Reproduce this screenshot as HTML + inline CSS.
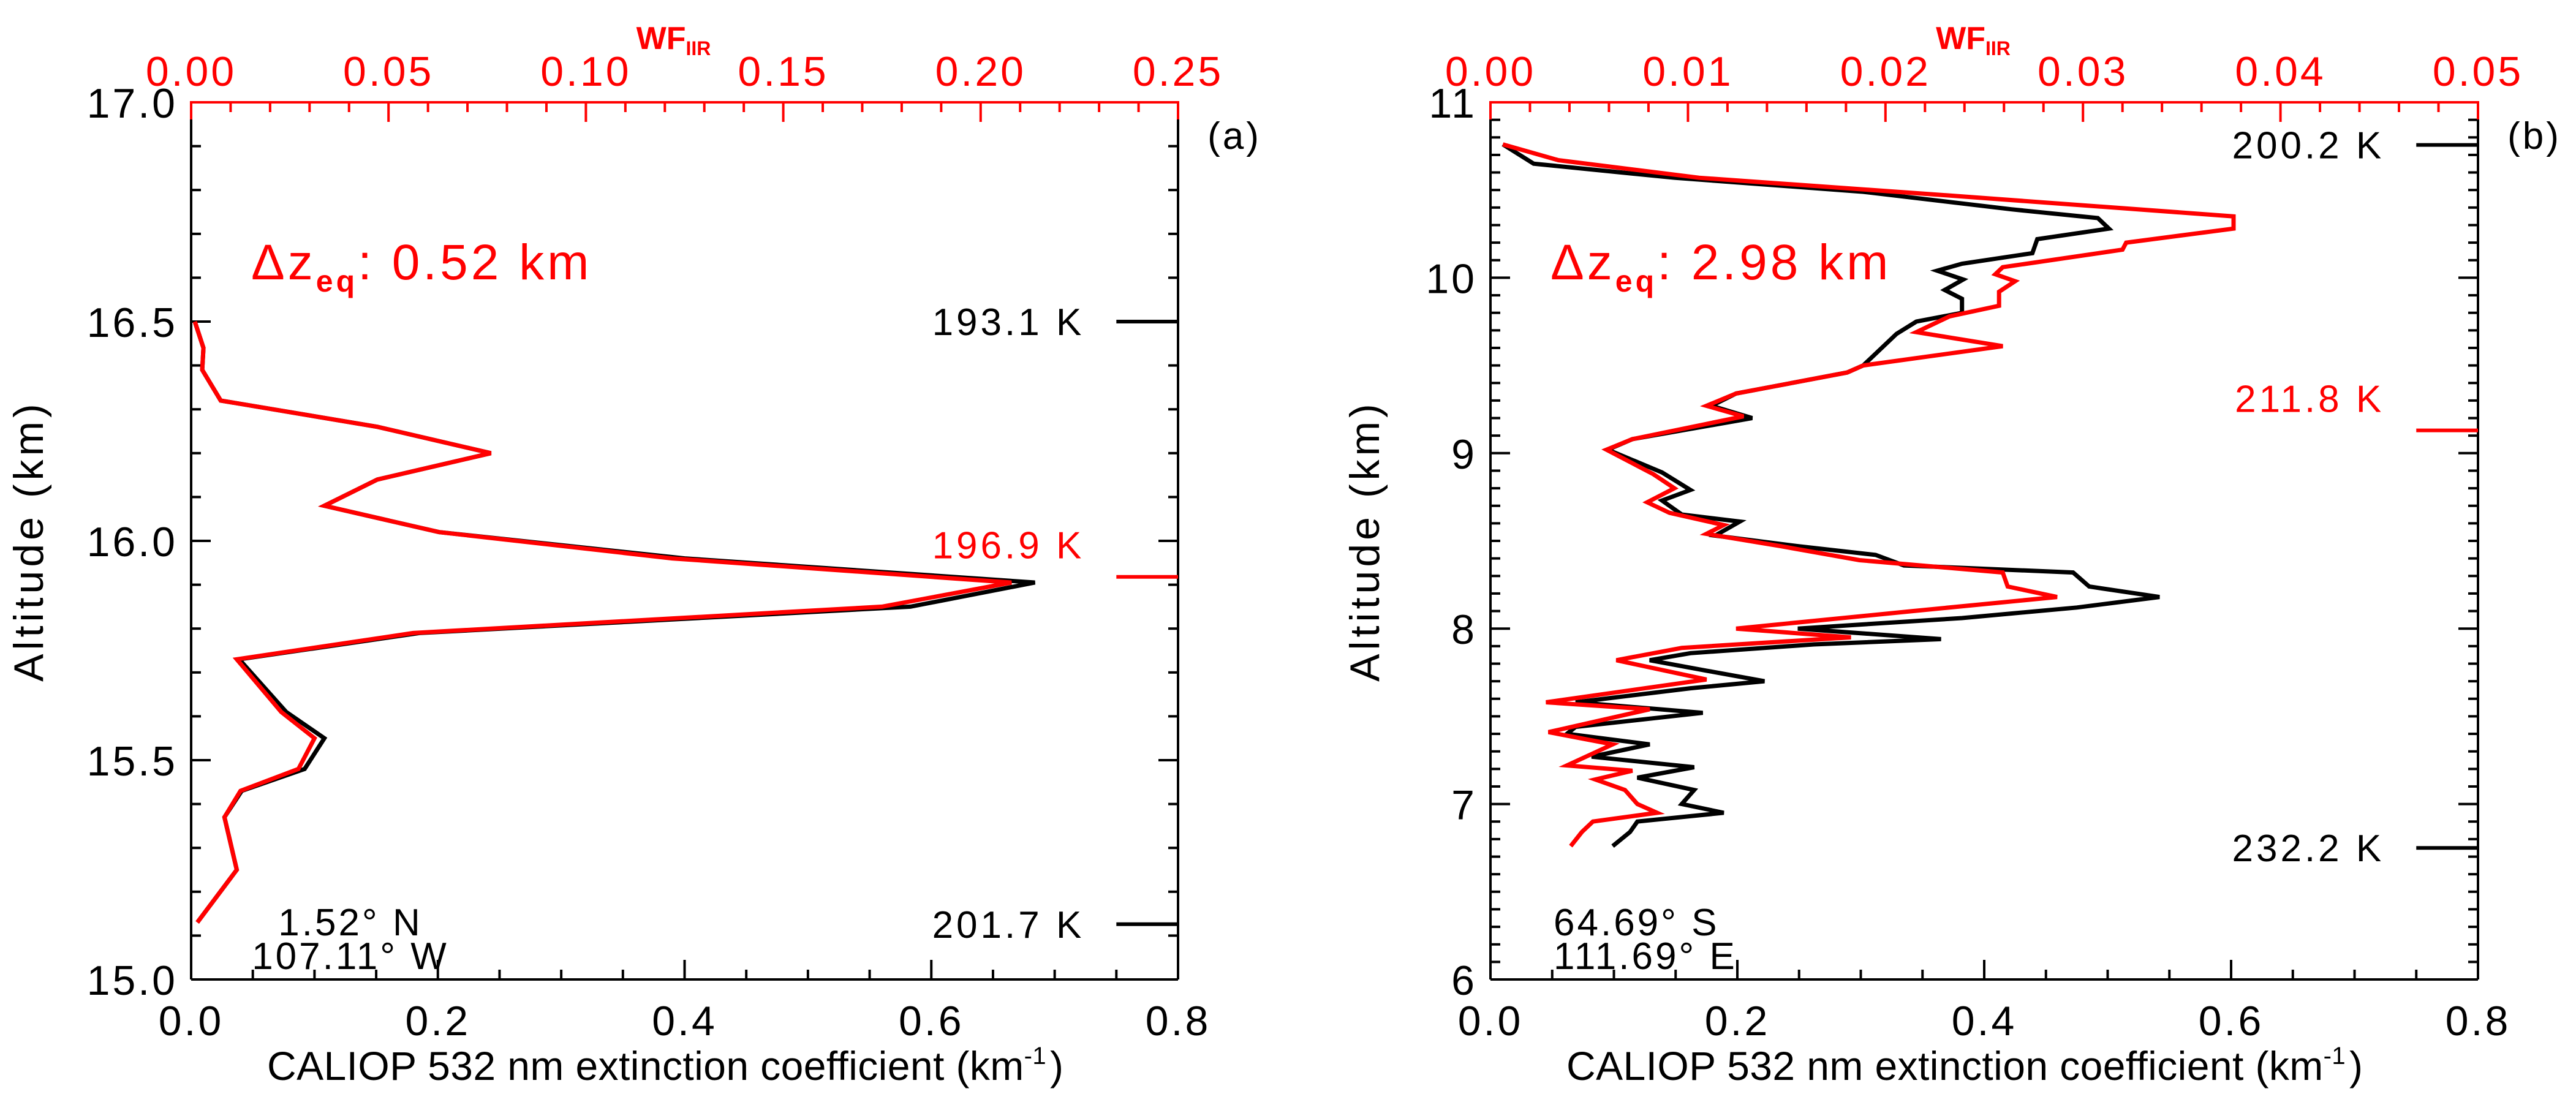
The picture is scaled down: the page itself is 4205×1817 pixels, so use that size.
<!DOCTYPE html>
<html><head><meta charset="utf-8"><style>
html,body{margin:0;padding:0;background:#fff;}
svg{display:block;font-family:"Liberation Sans",sans-serif;}
</style></head><body>
<svg id="fig" width="4205" height="1817" viewBox="0 0 4205 1817" xmlns="http://www.w3.org/2000/svg"></svg>
<script>
// ---------- data panel (a) ----------
const aAlt  = [16.5,16.44,16.39,16.32,16.26,16.20,16.14,16.08,16.02,15.96,15.905,15.85,15.79,15.73,15.61,15.55,15.48,15.43,15.37,15.25,15.13];
const aBlack= [0.003,0.010,0.009,0.024,0.151,0.243,0.151,0.108,0.201,0.40,0.684,0.583,0.185,0.039,0.077,0.108,0.092,0.041,0.027,0.037,0.005];
const aRed  = [0.003,0.010,0.009,0.024,0.151,0.243,0.151,0.108,0.201,0.39,0.665,0.560,0.180,0.037,0.073,0.100,0.087,0.040,0.027,0.037,0.005];
// ---------- data panel (b) ----------
const bAltK = [10.76,10.65,10.57,10.49,10.39,10.34,10.28,10.22,10.14,10.08,10.04,9.99,9.93,9.88,9.80,9.75,9.68,9.50,9.46,9.34,9.27,9.20,9.08,9.02,8.89,8.79,8.73,8.65,8.61,8.53,8.47,8.42,8.36,8.32,8.24,8.18,8.12,8.06,8.00,7.94,7.91,7.86,7.82,7.76,7.70,7.66,7.58,7.52,7.44,7.40,7.34,7.27,7.21,7.15,7.08,7.00,6.95,6.90,6.84,6.76];
const bBlack= [0.010,0.035,0.149,0.302,0.422,0.492,0.501,0.443,0.439,0.382,0.362,0.383,0.368,0.382,0.382,0.345,0.329,0.302,0.289,0.199,0.179,0.212,0.115,0.095,0.139,0.162,0.139,0.155,0.202,0.182,0.249,0.312,0.335,0.472,0.485,0.542,0.475,0.382,0.249,0.365,0.262,0.162,0.129,0.175,0.222,0.162,0.069,0.172,0.069,0.062,0.129,0.082,0.165,0.119,0.165,0.155,0.189,0.119,0.113,0.099];
const bAltR = [10.76,10.67,10.57,10.47,10.35,10.28,10.20,10.16,10.06,10.02,9.98,9.92,9.84,9.78,9.69,9.61,9.50,9.46,9.34,9.27,9.21,9.08,9.02,8.88,8.80,8.72,8.66,8.59,8.54,8.47,8.39,8.32,8.24,8.18,8.10,8.00,7.95,7.89,7.82,7.71,7.58,7.54,7.41,7.34,7.22,7.19,7.14,7.08,7.00,6.95,6.90,6.84,6.76];
const bRed  = [0.010,0.055,0.169,0.369,0.602,0.602,0.515,0.512,0.415,0.409,0.425,0.412,0.412,0.372,0.345,0.415,0.302,0.289,0.199,0.175,0.205,0.115,0.094,0.132,0.149,0.127,0.145,0.189,0.175,0.235,0.299,0.415,0.419,0.459,0.342,0.199,0.292,0.155,0.102,0.175,0.045,0.129,0.047,0.099,0.062,0.115,0.085,0.109,0.119,0.135,0.083,0.074,0.065];
// ticks
const xTickLabels = ["0.0","0.2","0.4","0.6","0.8"];
const aTopLabels = ["0.00","0.05","0.10","0.15","0.20","0.25"];
const bTopLabels = ["0.00","0.01","0.02","0.03","0.04","0.05"];
const aYLabels = ["15.0","15.5","16.0","16.5","17.0"];
const bYLabels = ["6","7","8","9","10","11"];
const aTemps = [[16.5,"193.1 K","#000"],[15.918,"196.9 K","#f00"],[15.126,"201.7 K","#000"]];
const bTemps = [[10.757,"200.2 K","#000"],[9.13,"211.8 K","#f00"],[6.75,"232.2 K","#000"]];

const NS="http://www.w3.org/2000/svg";
const svg=document.getElementById('fig');
function el(tag,attrs,parent){const e=document.createElementNS(NS,tag);for(const k in attrs)e.setAttribute(k,attrs[k]);(parent||svg).appendChild(e);return e;}
function txt(s,x,y,size,fill,anchor,parent,extra){const t=el('text',Object.assign({x:x,y:y,'font-size':size,fill:fill,'text-anchor':anchor||'start'},extra||{}),parent);t.textContent=s;return t;}

function panel(o){
  const g=el('g',{});
  
  
  const L=o.L,R=o.R,T=167,B=1599;
  const sx=v=>L+(v/0.8)*(R-L);
  const sy=v=>B-(v-o.ymin)/(o.ymax-o.ymin)*(B-T);
  const st=v=>L+(v/o.topMax)*(R-L);
  const nY=Math.round((o.ymax-o.ymin)/o.yMinor);
  for(let i=0;i<=nY;i++){
    const v=o.ymin+i*o.yMinor, y=sy(v);
    const major=Math.abs((v-o.ymin)/o.yMajor-Math.round((v-o.ymin)/o.yMajor))<1e-6;
    const len=major?32:16;
    el('line',{x1:L,y1:y,x2:L+len,y2:y,stroke:'#000','stroke-width':4},g);
    el('line',{x1:R,y1:y,x2:R-len,y2:y,stroke:'#000','stroke-width':4},g);
  }
  o.yLabels.forEach((s,i)=>{const t=txt(s,L-22,sy(o.ymin+i*o.yMajor)+25,68,'#000','end',g,{'letter-spacing':'4'});
    });
  for(let i=0;i<=16;i++){const v=i*0.05,x=sx(v);const len=(i%4==0)?32:16;
    el('line',{x1:x,y1:B,x2:x,y2:B-len,stroke:'#000','stroke-width':4},g);}
  xTickLabels.forEach((s,i)=>{const t=txt(s,sx(i*0.2),1690,68,'#000','middle',g,{'letter-spacing':'4'});
    });
  const nT=Math.round(o.topMax/o.topMinor);
  for(let i=0;i<=nT;i++){const x=st(i*o.topMinor);const len=(i%5==0)?32:16;
    el('line',{x1:x,y1:T,x2:x,y2:T+len,stroke:'#f00','stroke-width':4},g);}
  o.topLabels.forEach((s,i)=>{const t=txt(s,st(i*o.topMax/5),140,68,'#f00','middle',g,{'letter-spacing':'4'});
    });
  el('line',{x1:L,y1:B,x2:R,y2:B,stroke:'#000','stroke-width':4},g);
  el('line',{x1:L,y1:T,x2:L,y2:B,stroke:'#000','stroke-width':4},g);
  el('line',{x1:R,y1:T,x2:R,y2:B,stroke:'#000','stroke-width':4},g);
  el('line',{x1:L,y1:T,x2:R,y2:T,stroke:'#f00','stroke-width':4},g);
  el('line',{x1:L,y1:T-2,x2:L,y2:T+28,stroke:'#f00','stroke-width':4},g);
  el('line',{x1:R,y1:T-2,x2:R,y2:T+28,stroke:'#f00','stroke-width':4},g);
  const xt=txt('CALIOP 532 nm extinction coefficient (km',L+124,1763,66,'#000','start',g,{textLength:1300,lengthAdjust:'spacing'});
  const sup=el('tspan',{dy:-26,'font-size':40},xt);sup.textContent='-1';
  const cl=el('tspan',{dy:26,dx:6},xt);cl.textContent=')';
  
  const wf=txt('WF',(L+R)/2-18,80,52,'#f00','middle',g,{'font-weight':'bold'});
  const wsub=el('tspan',{dy:10,'font-size':32},wf);wsub.textContent='IIR';
  
  const yt=txt('Altitude (km)',0,0,68,'#000','middle',g,{transform:`translate(${o.ytx},883) rotate(-90)`,'letter-spacing':'6'});
  
  const pl=txt(o.letter,R+92,243,62,'#000','middle',g,{'letter-spacing':'4'});
  
  const dz=txt('Δz',L+98,456,82,'#f00','start',g,{'letter-spacing':'5'});
  const dsub=el('tspan',{dy:20,'font-size':50,'font-weight':'bold'},dz);dsub.textContent='eq';
  const drest=el('tspan',{dy:-20},dz);drest.textContent=': '+o.dz+' km';
  
  o.temps.forEach(tp=>{
    const y=sy(tp[0]);
    const bar=el('line',{x1:sx(0.75),y1:y,x2:R,y2:y,stroke:tp[2],'stroke-width':6},g);
    
    const ty=tp[2]=='#f00'?y-30:y+22;
    const t=txt(tp[1],sx(0.75)-52,ty,62,tp[2],'end',g,{'letter-spacing':'5'});
    
  });
  o.loc.forEach((s,i)=>{const t=txt(s,o.locX,1527+i*55,62,'#000',o.locAnchor,g,{'letter-spacing':'4'});
    });
  const mk=(xs,ys,c,nm)=>{const p=el('polyline',{points:xs.map((v,i)=>sx(v).toFixed(1)+','+sy(ys[i]).toFixed(1)).join(' '),fill:'none',stroke:c,'stroke-width':7,'stroke-linejoin':'miter'},g);
    };
  mk(o.black,o.altK,'#000','extinction-profile-black');
  mk(o.red,o.altR,'#f00','weighting-function-red');
}
panel({name:'panel-a',L:312,R:1923,ymin:15,ymax:17,yMinor:0.1,yMajor:0.5,yLabels:aYLabels,
  topMax:0.25,topMinor:0.01,topLabels:aTopLabels,ytx:70,letter:'(a)',dz:'0.52',temps:aTemps,
  loc:['1.52° N','107.11° W'],locX:572,locAnchor:'middle',black:aBlack,red:aRed,altK:aAlt,altR:aAlt});
panel({name:'panel-b',L:2433,R:4045,ymin:6,ymax:11,yMinor:0.1,yMajor:1,yLabels:bYLabels,
  topMax:0.05,topMinor:0.002,topLabels:bTopLabels,ytx:2251,letter:'(b)',dz:'2.98',temps:bTemps,
  loc:['64.69° S','111.69° E'],locX:2536,locAnchor:'start',black:bBlack,red:bRed,altK:bAltK,altR:bAltR});
</script>
</body></html>
